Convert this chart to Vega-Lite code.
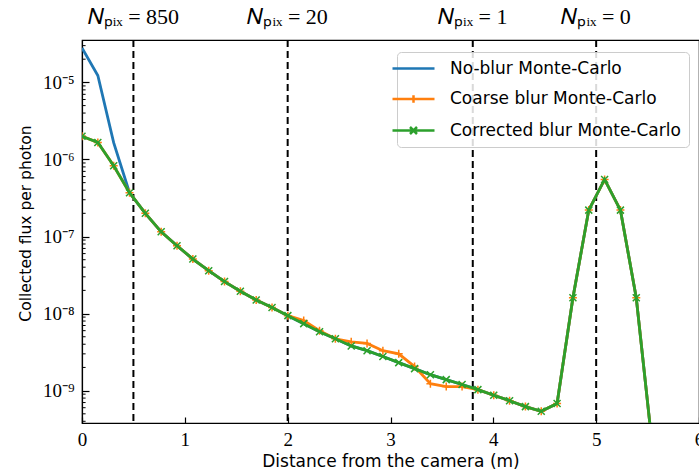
{
  "$schema": "https://vega.github.io/schema/vega-lite/v6.json",
  "width": 617,
  "height": 383,
  "autosize": {"type": "none"},
  "padding": {"left": 82, "top": 40, "right": 0, "bottom": 49},
  "background": "white",
  "config": {
    "view": {"stroke": "black", "strokeWidth": 1.2},
    "axis": {"grid": false}
  },
  "datasets": {
    "noblur": [
      {"x": 0, "y": 2.8e-5}, {"x": 0.154, "y": 1.23e-5}, {"x": 0.308, "y": 1.65e-6}, {"x": 0.462, "y": 3.7e-7},
      {"x": 0.616, "y": 2.0e-7}, {"x": 0.77, "y": 1.15e-7}, {"x": 0.924, "y": 7.6e-8}, {"x": 1.078, "y": 5.1e-8},
      {"x": 1.232, "y": 3.6e-8}, {"x": 1.386, "y": 2.6e-8}, {"x": 1.54, "y": 1.95e-8}, {"x": 1.694, "y": 1.5e-8},
      {"x": 1.848, "y": 1.2e-8}, {"x": 2.002, "y": 9.4e-9}, {"x": 2.156, "y": 7.4e-9}, {"x": 2.31, "y": 5.8e-9},
      {"x": 2.464, "y": 4.7e-9}, {"x": 2.618, "y": 3.8e-9}, {"x": 2.772, "y": 3.3e-9}, {"x": 2.926, "y": 2.77e-9},
      {"x": 3.08, "y": 2.31e-9}, {"x": 3.234, "y": 1.93e-9}, {"x": 3.388, "y": 1.61e-9}, {"x": 3.542, "y": 1.39e-9},
      {"x": 3.696, "y": 1.2e-9}, {"x": 3.85, "y": 1.03e-9}, {"x": 4.004, "y": 8.7e-10}, {"x": 4.158, "y": 7.4e-10},
      {"x": 4.312, "y": 6.2e-10}, {"x": 4.466, "y": 5.4e-10}, {"x": 4.62, "y": 6.8e-10}, {"x": 4.774, "y": 1.6e-8},
      {"x": 4.928, "y": 2.2e-7}, {"x": 5.082, "y": 5.5e-7}, {"x": 5.236, "y": 2.2e-7}, {"x": 5.39, "y": 1.6e-8},
      {"x": 5.544, "y": 2.0e-10}
    ],
    "coarse": [
      {"x": 0, "y": 2.0e-6}, {"x": 0.154, "y": 1.66e-6}, {"x": 0.308, "y": 8.3e-7}, {"x": 0.462, "y": 3.7e-7},
      {"x": 0.616, "y": 2.0e-7}, {"x": 0.77, "y": 1.15e-7}, {"x": 0.924, "y": 7.6e-8}, {"x": 1.078, "y": 5.1e-8},
      {"x": 1.232, "y": 3.6e-8}, {"x": 1.386, "y": 2.6e-8}, {"x": 1.54, "y": 1.95e-8}, {"x": 1.694, "y": 1.5e-8},
      {"x": 1.848, "y": 1.2e-8}, {"x": 2.002, "y": 9.4e-9}, {"x": 2.156, "y": 8.1e-9}, {"x": 2.31, "y": 6.0e-9},
      {"x": 2.464, "y": 4.7e-9}, {"x": 2.618, "y": 4.3e-9}, {"x": 2.772, "y": 4.1e-9}, {"x": 2.926, "y": 3.3e-9},
      {"x": 3.08, "y": 3.0e-9}, {"x": 3.234, "y": 2.05e-9}, {"x": 3.388, "y": 1.23e-9}, {"x": 3.542, "y": 1.13e-9},
      {"x": 3.696, "y": 1.13e-9}, {"x": 3.85, "y": 1.03e-9}, {"x": 4.004, "y": 8.7e-10}, {"x": 4.158, "y": 7.4e-10},
      {"x": 4.312, "y": 6.2e-10}, {"x": 4.466, "y": 5.4e-10}, {"x": 4.62, "y": 6.8e-10}, {"x": 4.774, "y": 1.6e-8},
      {"x": 4.928, "y": 2.2e-7}, {"x": 5.082, "y": 5.5e-7}, {"x": 5.236, "y": 2.2e-7}, {"x": 5.39, "y": 1.6e-8},
      {"x": 5.544, "y": 2.0e-10}
    ],
    "corrected": [
      {"x": 0, "y": 2.0e-6}, {"x": 0.154, "y": 1.66e-6}, {"x": 0.308, "y": 8.3e-7}, {"x": 0.462, "y": 3.7e-7},
      {"x": 0.616, "y": 2.0e-7}, {"x": 0.77, "y": 1.15e-7}, {"x": 0.924, "y": 7.6e-8}, {"x": 1.078, "y": 5.1e-8},
      {"x": 1.232, "y": 3.6e-8}, {"x": 1.386, "y": 2.6e-8}, {"x": 1.54, "y": 1.95e-8}, {"x": 1.694, "y": 1.5e-8},
      {"x": 1.848, "y": 1.2e-8}, {"x": 2.002, "y": 9.4e-9}, {"x": 2.156, "y": 7.4e-9}, {"x": 2.31, "y": 5.8e-9},
      {"x": 2.464, "y": 4.7e-9}, {"x": 2.618, "y": 3.8e-9}, {"x": 2.772, "y": 3.3e-9}, {"x": 2.926, "y": 2.77e-9},
      {"x": 3.08, "y": 2.31e-9}, {"x": 3.234, "y": 1.93e-9}, {"x": 3.388, "y": 1.61e-9}, {"x": 3.542, "y": 1.39e-9},
      {"x": 3.696, "y": 1.2e-9}, {"x": 3.85, "y": 1.03e-9}, {"x": 4.004, "y": 8.7e-10}, {"x": 4.158, "y": 7.4e-10},
      {"x": 4.312, "y": 6.2e-10}, {"x": 4.466, "y": 5.4e-10}, {"x": 4.62, "y": 6.8e-10}, {"x": 4.774, "y": 1.6e-8},
      {"x": 4.928, "y": 2.2e-7}, {"x": 5.082, "y": 5.5e-7}, {"x": 5.236, "y": 2.2e-7}, {"x": 5.39, "y": 1.6e-8},
      {"x": 5.544, "y": 2.0e-10}
    ],
    "vlines": [
      {"x": 0.5, "label": "𝑁ₚᵢₓ = 850"},
      {"x": 2.0, "label": "𝑁ₚᵢₓ = 20"},
      {"x": 3.8, "label": "𝑁ₚᵢₓ = 1"},
      {"x": 5.0, "label": "𝑁ₚᵢₓ = 0"}
    ],
    "minorticks": [
      {"y": 4e-10}, {"y": 5e-10}, {"y": 6e-10}, {"y": 7e-10}, {"y": 8e-10}, {"y": 9e-10},
      {"y": 2e-9}, {"y": 3e-9}, {"y": 4e-9}, {"y": 5e-9}, {"y": 6e-9}, {"y": 7e-9}, {"y": 8e-9}, {"y": 9e-9},
      {"y": 2e-8}, {"y": 3e-8}, {"y": 4e-8}, {"y": 5e-8}, {"y": 6e-8}, {"y": 7e-8}, {"y": 8e-8}, {"y": 9e-8},
      {"y": 2e-7}, {"y": 3e-7}, {"y": 4e-7}, {"y": 5e-7}, {"y": 6e-7}, {"y": 7e-7}, {"y": 8e-7}, {"y": 9e-7},
      {"y": 2e-6}, {"y": 3e-6}, {"y": 4e-6}, {"y": 5e-6}, {"y": 6e-6}, {"y": 7e-6}, {"y": 8e-6}, {"y": 9e-6},
      {"y": 2e-5}, {"y": 3e-5}
    ],
    "legend": [
      {"series": "No-blur Monte-Carlo", "x": 5, "y": 1e-5},
      {"series": "Coarse blur Monte-Carlo", "x": 5, "y": 1e-5},
      {"series": "Corrected blur Monte-Carlo", "x": 5, "y": 1e-5}
    ]
  },
  "layer": [
    {
      "data": {"name": "vlines"},
      "mark": {"type": "rule", "color": "black", "strokeWidth": 2, "strokeDash": [7, 4]},
      "encoding": {
        "x": {
          "field": "x", "type": "quantitative",
          "scale": {"domain": [0, 6], "nice": false, "zero": false},
          "axis": {
            "orient": "bottom", "title": "Distance from the camera (m)",
            "values": [0, 1, 2, 3, 4, 5, 6], "format": "d",
            "labelFont": "Liberation Serif", "labelFontSize": 19, "labelColor": "black",
            "labelFlush": false, "labelPadding": 13,
            "tickSize": -6, "tickColor": "black", "tickWidth": 1.2,
            "domainColor": "black", "domainWidth": 1.2,
            "titleFont": "DejaVu Sans", "titleFontSize": 17, "titleFontWeight": "normal", "titleColor": "black", "titlePadding": 4
          }
        }
      }
    },
    {
      "data": {"name": "vlines"},
      "mark": {"type": "text", "font": "Liberation Serif", "fontSize": 22, "color": "black", "align": "center", "baseline": "alphabetic", "clip": false},
      "encoding": {
        "x": {
          "field": "x", "type": "quantitative",
          "scale": {"domain": [0, 6], "nice": false, "zero": false},
          "axis": {
            "orient": "bottom", "title": "Distance from the camera (m)",
            "values": [0, 1, 2, 3, 4, 5, 6], "format": "d",
            "labelFont": "Liberation Serif", "labelFontSize": 19, "labelColor": "black",
            "labelFlush": false, "labelPadding": 13,
            "tickSize": -6, "tickColor": "black", "tickWidth": 1.2,
            "domainColor": "black", "domainWidth": 1.2,
            "titleFont": "DejaVu Sans", "titleFontSize": 17, "titleFontWeight": "normal", "titleColor": "black", "titlePadding": 4
          }
        },
        "y": {
          "datum": 5.72e-5, "type": "quantitative",
          "scale": {"type": "log", "domain": [3.8e-10, 3.55e-5], "nice": false},
          "axis": {
            "orient": "left",
            "title": "Collected flux per photon",
            "values": [1e-9, 1e-8, 1e-7, 1e-6, 1e-5],
            "labelExpr": "datum.value < 5e-9 ? '10⁻⁹' : datum.value < 5e-8 ? '10⁻⁸' : datum.value < 5e-7 ? '10⁻⁷' : datum.value < 5e-6 ? '10⁻⁶' : '10⁻⁵'",
            "labelFont": "Liberation Serif", "labelFontSize": 19, "labelColor": "black",
            "labelOverlap": false, "labelFlush": false, "labelPadding": 15,
            "tickSize": -7, "tickColor": "black", "tickWidth": 1.2,
            "domainColor": "black", "domainWidth": 1.2,
            "titleFont": "DejaVu Sans", "titleFontSize": 15.5, "titleFontWeight": "normal", "titleColor": "black", "titlePadding": 9, "titleY": 183
          }
        },
        "text": {"field": "label"}
      }
    },
    {
      "data": {"name": "minorticks"},
      "mark": {"type": "rule", "color": "black", "strokeWidth": 1},
      "encoding": {
        "x": {
          "datum": 0, "type": "quantitative",
          "scale": {"domain": [0, 6], "nice": false, "zero": false},
          "axis": {
            "orient": "bottom", "title": "Distance from the camera (m)",
            "values": [0, 1, 2, 3, 4, 5, 6], "format": "d",
            "labelFont": "Liberation Serif", "labelFontSize": 19, "labelColor": "black",
            "labelFlush": false, "labelPadding": 13,
            "tickSize": -6, "tickColor": "black", "tickWidth": 1.2,
            "domainColor": "black", "domainWidth": 1.2,
            "titleFont": "DejaVu Sans", "titleFontSize": 17, "titleFontWeight": "normal", "titleColor": "black", "titlePadding": 4
          }
        },
        "x2": {"datum": 0.035},
        "y": {
          "field": "y", "type": "quantitative",
          "scale": {"type": "log", "domain": [3.8e-10, 3.55e-5], "nice": false},
          "axis": {
            "orient": "left",
            "title": "Collected flux per photon",
            "values": [1e-9, 1e-8, 1e-7, 1e-6, 1e-5],
            "labelExpr": "datum.value < 5e-9 ? '10⁻⁹' : datum.value < 5e-8 ? '10⁻⁸' : datum.value < 5e-7 ? '10⁻⁷' : datum.value < 5e-6 ? '10⁻⁶' : '10⁻⁵'",
            "labelFont": "Liberation Serif", "labelFontSize": 19, "labelColor": "black",
            "labelOverlap": false, "labelFlush": false, "labelPadding": 15,
            "tickSize": -7, "tickColor": "black", "tickWidth": 1.2,
            "domainColor": "black", "domainWidth": 1.2,
            "titleFont": "DejaVu Sans", "titleFontSize": 15.5, "titleFontWeight": "normal", "titleColor": "black", "titlePadding": 9, "titleY": 183
          }
        }
      }
    },
    {
      "encoding": {
        "x": {
          "field": "x", "type": "quantitative",
          "scale": {"domain": [0, 6], "nice": false, "zero": false},
          "axis": {
            "orient": "bottom", "title": "Distance from the camera (m)",
            "values": [0, 1, 2, 3, 4, 5, 6], "format": "d",
            "labelFont": "Liberation Serif", "labelFontSize": 19, "labelColor": "black",
            "labelFlush": false, "labelPadding": 13,
            "tickSize": -6, "tickColor": "black", "tickWidth": 1.2,
            "domainColor": "black", "domainWidth": 1.2,
            "titleFont": "DejaVu Sans", "titleFontSize": 17, "titleFontWeight": "normal", "titleColor": "black", "titlePadding": 4
          }
        },
        "y": {
          "field": "y", "type": "quantitative",
          "scale": {"type": "log", "domain": [3.8e-10, 3.55e-5], "nice": false},
          "axis": {
            "orient": "left",
            "title": "Collected flux per photon",
            "values": [1e-9, 1e-8, 1e-7, 1e-6, 1e-5],
            "labelExpr": "datum.value < 5e-9 ? '10⁻⁹' : datum.value < 5e-8 ? '10⁻⁸' : datum.value < 5e-7 ? '10⁻⁷' : datum.value < 5e-6 ? '10⁻⁶' : '10⁻⁵'",
            "labelFont": "Liberation Serif", "labelFontSize": 19, "labelColor": "black",
            "labelOverlap": false, "labelFlush": false, "labelPadding": 15,
            "tickSize": -7, "tickColor": "black", "tickWidth": 1.2,
            "domainColor": "black", "domainWidth": 1.2,
            "titleFont": "DejaVu Sans", "titleFontSize": 15.5, "titleFontWeight": "normal", "titleColor": "black", "titlePadding": 9, "titleY": 183
          }
        }
      },
      "layer": [
        {
          "data": {"name": "noblur"},
          "mark": {"type": "line", "color": "#1f77b4", "strokeWidth": 2.8, "clip": true}
        },
        {
          "data": {"name": "coarse"},
          "mark": {"type": "line", "color": "#ff7f0e", "strokeWidth": 2.8, "clip": true}
        },
        {
          "data": {"name": "coarse"},
          "mark": {"type": "point", "shape": "M-1,0H1M0,-1V1", "size": 64, "filled": false, "color": "#ff7f0e", "strokeWidth": 1.5, "opacity": 1, "clip": true}
        },
        {
          "data": {"name": "corrected"},
          "mark": {"type": "line", "color": "#2ca02c", "strokeWidth": 2.8, "clip": true}
        },
        {
          "data": {"name": "corrected"},
          "mark": {"type": "point", "shape": "M-1,-1L1,1M-1,1L1,-1", "size": 49, "filled": false, "color": "#2ca02c", "strokeWidth": 1.5, "opacity": 1, "clip": true}
        },
        {
          "data": {"name": "legend"},
          "mark": {"type": "point", "filled": false, "opacity": 0},
          "encoding": {
            "color": {
              "field": "series", "type": "nominal",
              "scale": {"domain": ["No-blur Monte-Carlo", "Coarse blur Monte-Carlo", "Corrected blur Monte-Carlo"], "range": ["#1f77b4", "#ff7f0e", "#2ca02c"]},
              "legend": {
                "orient": "none", "legendX": 315, "legendY": 12, "title": null,
                "fillColor": "rgba(255,255,255,0.85)", "strokeColor": "#cccccc", "cornerRadius": 4, "padding": 8,
                "symbolOpacity": 1, "symbolSize": 196, "symbolStrokeWidth": 2.5, "symbolFillColor": "transparent",
                "labelFont": "DejaVu Sans", "labelFontSize": 17, "labelColor": "black", "labelOffset": 28,
                "rowPadding": 12.5, "labelLimit": 400
              }
            },
            "shape": {
              "field": "series", "type": "nominal",
              "scale": {"domain": ["No-blur Monte-Carlo", "Coarse blur Monte-Carlo", "Corrected blur Monte-Carlo"],
                        "range": ["M-3,0H3", "M-3,0H3M0,-0.55V0.55", "M-3,0H3M-0.5,-0.5L0.5,0.5M-0.5,0.5L0.5,-0.5"]},
              "legend": {
                "orient": "none", "legendX": 315, "legendY": 12, "title": null,
                "fillColor": "rgba(255,255,255,0.85)", "strokeColor": "#cccccc", "cornerRadius": 4, "padding": 8,
                "symbolOpacity": 1, "symbolSize": 196, "symbolStrokeWidth": 2.5, "symbolFillColor": "transparent",
                "labelFont": "DejaVu Sans", "labelFontSize": 17, "labelColor": "black", "labelOffset": 28,
                "rowPadding": 12.5, "labelLimit": 400
              }
            }
          }
        }
      ]
    }
  ]
}
